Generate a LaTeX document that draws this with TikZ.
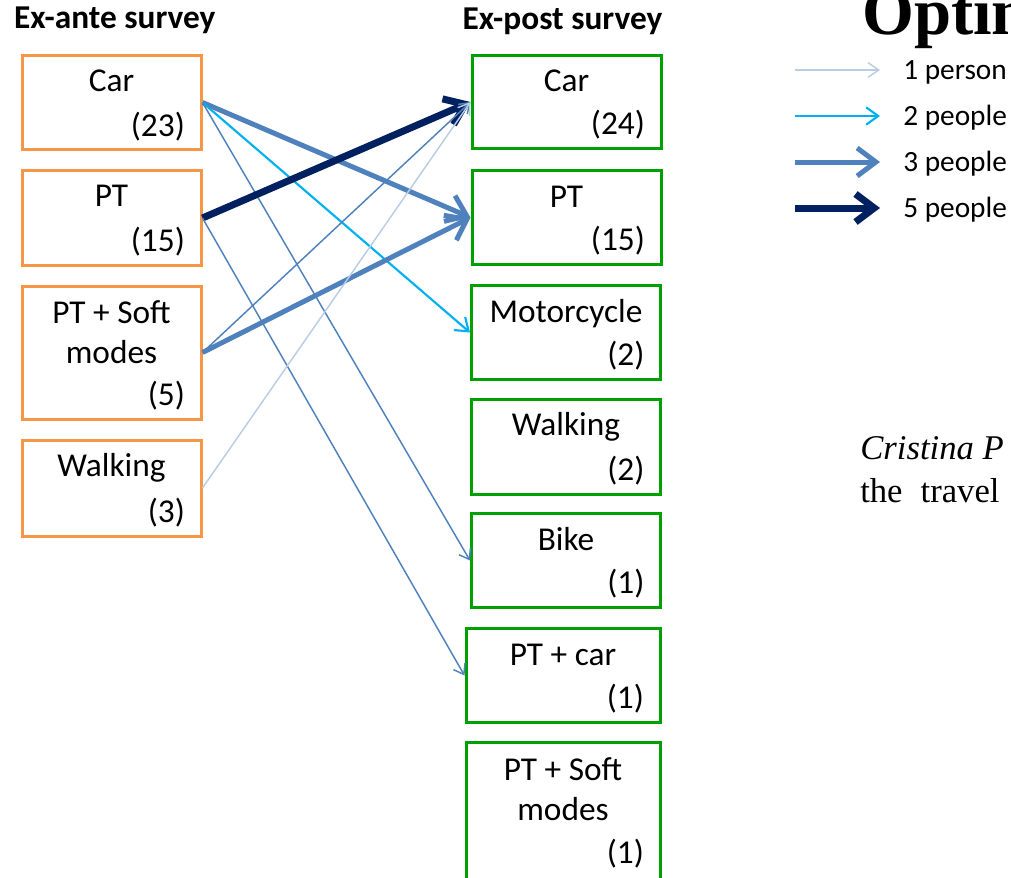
\documentclass[tikz,border=0pt]{standalone}
\usepackage{fontspec}
\setmainfont{Liberation Serif}
\newfontfamily\carlito{Carlito}
\usetikzlibrary{arrows.meta}
\definecolor{anteorange}{HTML}{F79646}
\definecolor{postgreen}{HTML}{00A000}
\definecolor{flowpale}{HTML}{B9CDE5}
\definecolor{flowcyan}{HTML}{00B0F0}
\definecolor{flowsteel}{HTML}{4F81BD}
\definecolor{flownavy}{HTML}{002060}

\begin{document}
\begin{tikzpicture}[
  x=0.75pt,
  y=-0.75pt,
  every node/.style={font=\carlito\fontsize{25}{30}\selectfont, inner sep=0pt},
  antebox/.style={draw=anteorange, line width=2.25pt, minimum width=134.25pt,
    minimum height=71pt},
  postbox/.style={draw=postgreen, line width=2.25pt, minimum width=141.75pt,
    minimum height=70pt},
  header/.style={font=\carlito\bfseries\fontsize{25}{28}\selectfont},
  modename/.style={align=center, text height=16pt, text depth=0pt},
  twolinename/.style={align=center},
  modecount/.style={anchor=east, text height=16pt, text depth=0pt},
  keytext/.style={anchor=west, font=\carlito\fontsize{22}{26}\selectfont,
    text height=14pt, text depth=0pt},
  personpale/.style={flowpale, line width=1.1pt,
    -{Straight Barb[length=8pt, width=11pt]}},
  personsteel/.style={flowsteel, line width=1.1pt,
    -{Straight Barb[length=7pt, width=10pt]}},
  peopletwo/.style={flowcyan, line width=1.6pt,
    -{Straight Barb[length=9pt, width=13pt]}},
  peoplethree/.style={flowsteel, line width=3.75pt,
    -{Straight Barb[length=14pt, width=21pt]}},
  peoplefive/.style={flownavy, line width=5.25pt,
    -{Straight Barb[length=14pt, width=21pt]}}
]

  % ---- page: the slide is cut at its right and bottom edge ------------
  \useasboundingbox (0,0) rectangle (1011,878);
  \clip (0,0) rectangle (1011,878);

  % ---- ex-ante column --------------------------------------------------
  \node[antebox] (aCar) at (111.5,102.5) {};
  \node[antebox] (aPT) at (111.5,218) {};
  \node[antebox, minimum height=99.75pt] (aSoft) at (111.5,352.5) {};
  \node[antebox, minimum height=72pt] (aWalk) at (111.5,488) {};

  % ---- ex-post column --------------------------------------------------
  \node[postbox] (bCar) at (566.5,102) {};
  \node[postbox] (bPT) at (566.5,217.5) {};
  \node[postbox] (bMoto) at (566,332.5) {};
  \node[postbox, minimum height=71.25pt] (bWalk) at (566,446.5) {};
  \node[postbox] (bBike) at (566,560.5) {};
  \node[postbox, minimum width=145.5pt] (bPTcar) at (563,675.5) {};
  \node[postbox, minimum width=145.5pt, minimum height=103pt] (bSoft)
    at (563,811.5) {};

  \node[header] (anteHead) at ([xshift=2.5pt, yshift=24.75pt]aCar.north)
    {Ex-ante survey};
  \node[header] (postHead) at ([xshift=-3pt, yshift=24.75pt]bCar.north)
    {Ex-post survey};

  % ---- mode names, centred 27px below the top edge ---------------------
  \foreach \b/\t in {aCar/Car, aPT/PT, aWalk/Walking, bCar/Car, bPT/PT,
      bMoto/Motorcycle, bWalk/Walking, bBike/Bike, bPTcar/PT + car}
    \node[modename] (\b-name) at ([yshift=-20.25pt]\b.north) {\t};
  \node[twolinename] (aSoft-name) at ([yshift=-36pt]aSoft.north)
    {PT + Soft\\modes};
  \node[twolinename] (bSoft-name) at ([yshift=-36pt]bSoft.north)
    {PT + Soft\\modes};

  % ---- head counts, right aligned near the lower right corner ----------
  \foreach \b/\n in {aCar/23, aPT/15, aSoft/5, aWalk/3, bCar/24, bPT/15,
      bMoto/2, bWalk/2, bBike/1, bPTcar/1}
    \node[modecount] (\b-count) at ([shift={(-13pt,19.5pt)}]\b.south east)
      {(\n)};
  \node[modecount] (bSoft-count) at ([shift={(-13pt,-31pt)}]bSoft.east) {(1)};

  % ---- shifts between the two surveys ----------------------------------
  \draw[peoplethree] (aCar.east) -- (bPT.west);
  \draw[peopletwo] (aCar.east) -- (bMoto.west);
  \draw[personsteel] (aCar.east) -- (bBike.west);
  \draw[peoplefive] (aPT.east) -- (bCar.west);
  \draw[personsteel] (aPT.east) -- (bPTcar.west);
  \draw[personsteel] (aSoft.east) -- (bCar.west);
  \draw[peoplethree] (aSoft.east) -- (bPT.west);
  \draw[personpale] (aWalk.east) -- (bCar.west);

  % ---- legend ----------------------------------------------------------
  \foreach \k/\y/\sty/\txt in {1/70/personpale/1 person,
      2/116/peopletwo/2 people, 3/162/peoplethree/3 people,
      4/208/peoplefive/5 people} {
    \coordinate (key\k) at (795,\y);
    \node[keytext] (keylabel\k) at (903,\y) {\txt};
    \draw[\sty] (key\k) -- ++(85,0);
  }

  % ---- slide text behind the figure, cut by the page edge --------------
  \node[anchor=base west, font=\bfseries\fontsize{50}{60}\selectfont]
    (slideTitle) at (862,34) {Optim};
  \node[anchor=base west, font=\itshape\fontsize{26}{34}\selectfont]
    (authorLine) at (860,459) {Cristina P};
  \node[anchor=base west, font=\fontsize{26}{34}\selectfont]
    (topicLine) at (860,502) {the\hspace{0.52em}travel};

\end{tikzpicture}
\end{document}
